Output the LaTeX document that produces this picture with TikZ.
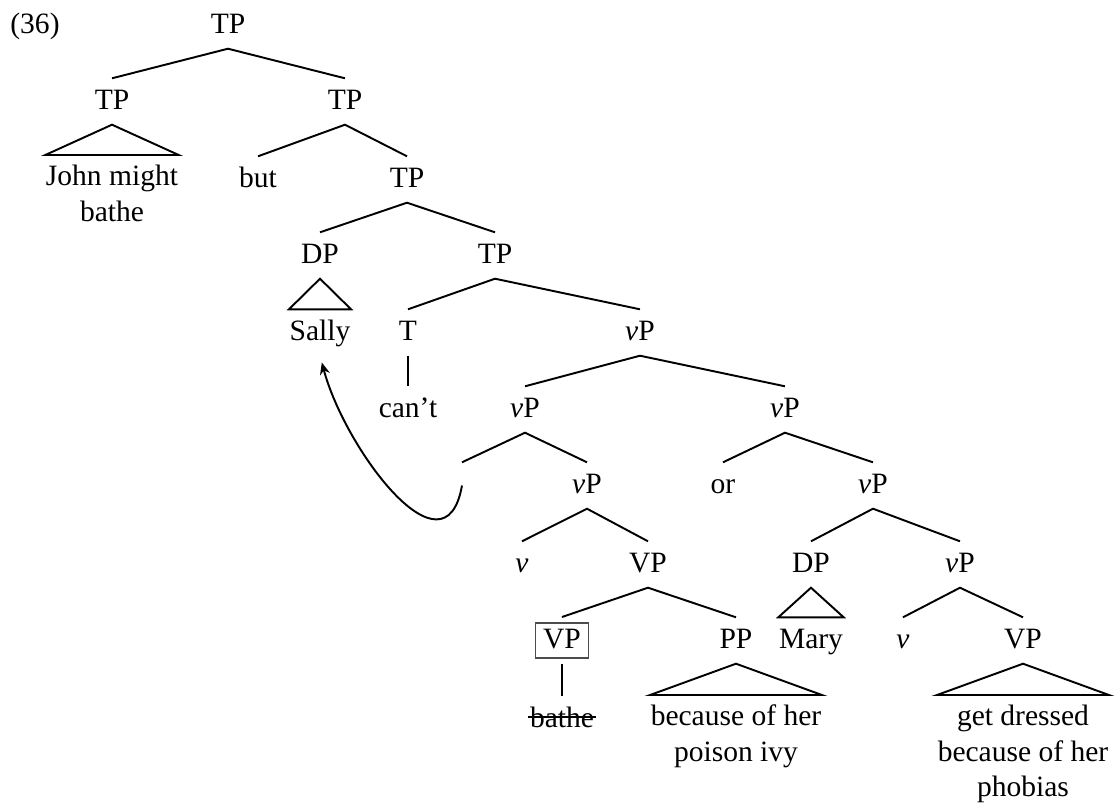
\documentclass[tikz,border=0pt]{standalone}
\usepackage{fontspec}
\setmainfont{Liberation Serif}
\usepackage{tikz}
\usetikzlibrary{arrows.meta}
\tikzset{
    cat/.style={anchor=base, inner xsep=0pt, inner ysep=1mm, text height=2mm, text depth=0.5mm},
    boxcat/.style={anchor=base, draw=black!70, line width=0.4pt, inner xsep=0.75mm, inner ysep=0.3mm, text height=2.2mm, text depth=0.7mm, outer ysep=0.6mm},
    leaf/.style={anchor=north, align=center, inner xsep=0pt, inner ysep=0.5mm},
    branch/.style={line width=0.55pt},
    strike/.style={line width=0.5pt},
    move/.style={-{Stealth[length=1.2mm, width=1mm]}, line width=0.55pt, shorten >=0.7mm}
}

\begin{document}
\begin{tikzpicture}[x=0.1mm, y=-0.1mm, font=\fontsize{8.4}{10.1}\selectfont]
    \useasboundingbox (0,0) rectangle (1115,804);
    \node[cat] (ex) at (35,33) {(36)};

    % Top coordination
    \node[cat] (tp0) at (228,33) {TP};
    \node[cat] (tp1) at (112,109) {TP};
    \node[cat] (tp2) at (345,109) {TP};
    \node[leaf] (john) at (112,155) {\strut John might\\bathe};
    \node[cat] (but) at (258,187) {but};
    \node[cat] (tp3) at (407,187) {TP};
    \draw[branch] (tp1.north) -- (tp0.south) -- (tp2.north);
    \draw[branch] (tp1.south) -- (john.north west) -- (john.north east) -- cycle;
    \draw[branch] (but.north) -- (tp2.south) -- (tp3.north);

    % Subject and T
    \node[cat] (dp1) at (320,263) {DP};
    \node[cat] (tp4) at (495,263) {TP};
    \node[cat] (sally) at (320,340) {Sally};
    \node[cat] (t) at (408,340) {T};
    \node[cat] (cant) at (408,417) {can’t};
    \node[cat] (vp0) at (640,340) {\textit{v}P};
    \draw[branch] (dp1.north) -- (tp3.south) -- (tp4.north);
    \draw[branch] (dp1.south) -- (sally.north west) -- (sally.north east) -- cycle;
    \draw[branch] (t.north) -- (tp4.south) -- (vp0.north);
    \draw[branch] (t.south) -- (cant.north);

    % First conjunct
    \node[cat] (vp1) at (525,417) {\textit{v}P};
    \node[cat] (gap) at (462,493) {};
    \node[cat] (vp3) at (587,493) {\textit{v}P};
    \node[cat] (v1) at (522,572) {\textit{v}};
    \node[cat] (vp5) at (648,572) {VP};
    \node[boxcat] (vpbox) at (562,648) {VP};
    \node[cat] (pp) at (736,648) {PP};
    \node[cat] (bathe) at (562,727) {bathe};
    \node[leaf] (ivy) at (736,695) {\strut because of her\\poison ivy};
    \draw[branch] (vp1.north) -- (vp0.south);
    \draw[branch] (gap.north) -- (vp1.south) -- (vp3.north);
    \draw[branch] (v1.north) -- (vp3.south) -- (vp5.north);
    \draw[branch] (vpbox.north) -- (vp5.south) -- (pp.north);
    \draw[branch] (vpbox.south) -- (bathe.north);
    \draw[strike] ([shift={(-1,-10)}]bathe.base west) -- ([shift={(1,-10)}]bathe.base east);
    \draw[branch] (pp.south) -- (ivy.north west) -- (ivy.north east) -- cycle;

    % Second conjunct
    \node[cat] (vp2) at (785,417) {\textit{v}P};
    \node[cat] (or) at (723,493) {or};
    \node[cat] (vp4) at (873,493) {\textit{v}P};
    \node[cat] (dp2) at (811,572) {DP};
    \node[cat] (vp6) at (960,572) {\textit{v}P};
    \node[cat] (mary) at (811,648) {Mary};
    \node[cat] (v2) at (903,648) {\textit{v}};
    \node[cat] (vp7) at (1023,648) {VP};
    \node[leaf] (phob) at (1023,695) {\strut get dressed\\because of her\\phobias};
    \draw[branch] (vp0.south) -- (vp2.north);
    \draw[branch] (or.north) -- (vp2.south) -- (vp4.north);
    \draw[branch] (dp2.north) -- (vp4.south) -- (vp6.north);
    \draw[branch] (dp2.south) -- (mary.north west) -- (mary.north east) -- cycle;
    \draw[branch] (v2.north) -- (vp6.south) -- (vp7.north);
    \draw[branch] (vp7.south) -- (phob.north west) -- (phob.north east) -- cycle;

    % Movement
    \draw[move] (gap.center) to[out=-100, in=-75, looseness=1.3] (sally.south);
\end{tikzpicture}
\end{document}
